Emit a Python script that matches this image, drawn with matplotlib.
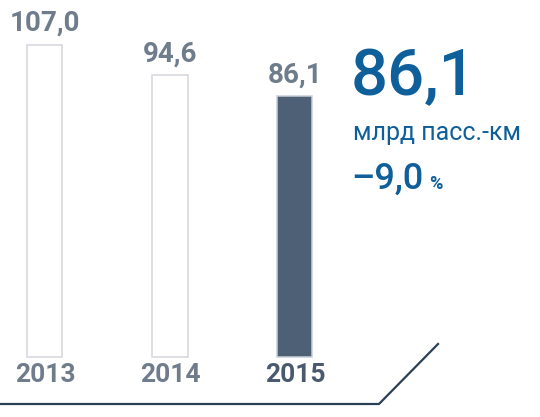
import matplotlib
matplotlib.use("Agg")
from matplotlib import pyplot as plt

plt.rcParams['font.family'] = ['Roboto', 'DejaVu Sans']

# Chart data
years = ['2013', '2014', '2015']
values = [107.0, 94.6, 86.1]
value_labels = ['107,0', '94,6', '86,1']
headline = '86,1'
unit = 'млрд пасс.-км'
change = '–9,0'

W, H = 540, 417
BASE = -20.4  # bars start below zero (visual baseline)

fig = plt.figure(figsize=(W / 100, H / 100), dpi=100)
ax = fig.add_axes([0, 0, 1, 1])
ax.set_xlim(-0.36, 3.96)
ax.set_ylim(-44.9, 125.4)
ax.axis('off')

x = list(range(len(years)))
face = ['white', 'white', '#4d6075']
edge = ['#d3d6de', '#d3d6de', '#c9ced8']
heights = [v - BASE for v in values]
ax.bar(x, heights, bottom=BASE, width=0.28, color=face, edgecolor=edge, linewidth=1.1)

# value labels above bars
for xi, v, lab in zip(x, values, value_labels):
    ax.annotate(lab, (xi, v), xytext=(0, 14), textcoords='offset pixels',
                ha='center', va='baseline', fontsize=20, fontweight='bold',
                color='#6f7c8c')

# year labels
year_colors = ['#6f7c8c', '#6f7c8c', '#4a5a6e']
for xi, yr, c in zip(x, years, year_colors):
    ax.text(xi, BASE - 7.4, yr, ha='center', va='center', fontsize=19,
            fontweight='bold', color=c)

# bottom line with diagonal
def px(xp, yp):
    return xp / W, 1 - yp / H

lx, ly = zip(px(0, 404), px(379, 404), px(438, 344))
fig.add_artist(plt.Line2D(lx, ly, transform=fig.transFigure, color='#2b3f55', linewidth=1.6))

# headline figure on the right
blue = '#0f5f9b'
fig.text(*px(351, 95), headline, fontsize=47, fontweight='medium', color=blue, va='baseline')
fig.text(*px(353, 140), unit, fontsize=18, color=blue, va='baseline')
fig.text(*px(351, 189), change, fontsize=26, fontweight='medium', color=blue, va='baseline')
fig.text(*px(429, 189), '%', fontsize=13, fontweight='bold', color=blue, va='baseline')

fig.savefig('out.png', dpi=100)
